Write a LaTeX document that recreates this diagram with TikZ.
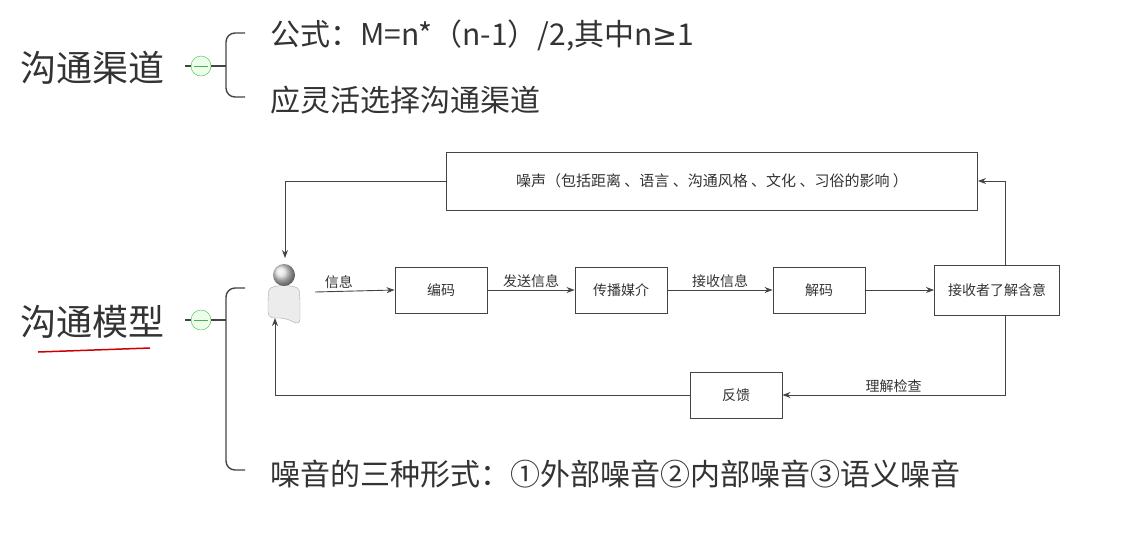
\documentclass[tikz,border=0pt]{standalone}
\usepackage{fontspec}
\setmainfont{Noto Sans CJK SC}
\newfontfamily\djv{DejaVu Sans}
\usetikzlibrary{arrows.meta}
\definecolor{tx}{HTML}{333333}
\definecolor{ln}{HTML}{444444}
\begin{document}
\begin{tikzpicture}[x=1pt,y=-1pt,
  big/.style={font=\fontsize{36}{40}\selectfont,text=tx,inner sep=0},
  mid/.style={font=\fontsize{30}{34}\selectfont,text=tx,inner sep=0,anchor=west},
  box/.style={draw=ln,line width=0.9pt,minimum width=92pt,minimum height=46pt,font=\fontsize{14}{16}\selectfont,text=tx},
  lab/.style={font=\fontsize{14}{16}\selectfont,text=tx,inner sep=2pt},
  btn/.style={circle,draw=green!50!gray,fill=green!8,minimum size=20pt,inner sep=0},
  br/.style={draw=ln,line width=1.4pt,rounded corners=9pt},
  ar/.style={draw=ln,line width=0.9pt,-{Stealth[length=8pt]}}]
\useasboundingbox (0,0) rectangle (1131,539);
\node[big] (t1) at (92,68) {沟通渠道};
\node[btn] (b1) at (201,66) {};
\draw[green!40!gray,line width=1pt] (194,66)--(208,66);
\draw[ln,line width=1.4pt] (185,66)--(b1.west) (b1.east)--(226,66);
\draw[br] (245,33) -| (226,97) -- (245,97);
\node[mid] (f) at (270,36) {公式：M=n*（n-1）/2,其中n{\djv ≥}1};
\node[mid] (g) at (270,100) {应灵活选择沟通渠道};
\node[big] (t2) at (92,322) {沟通模型};
\draw[red!80!black,line width=1.5pt] (38,352) -- (150,348);
\node[btn] (b2) at (201,320) {};
\draw[green!40!gray,line width=1pt] (194,320)--(208,320);
\draw[ln,line width=1.4pt] (185,320)--(b2.west) (b2.east)--(226,320);
\draw[br] (245,288) -| (226,470) -- (245,470);
\node[mid] (h) at (270,474) {噪音的三种形式：①外部噪音②内部噪音③语义噪音};
% diagram
\node[draw=ln,line width=0.9pt,minimum width=531pt,minimum height=58pt,font=\fontsize{15}{17}\selectfont,text=tx] (noise) at (712,181) {噪声（包括距离 、语言 、沟通风格 、文化 、习俗的影响 ）};
\node[box] (enc) at (441,290) {编码};
\node[box] (med) at (621,290) {传播媒介};
\node[box] (dec) at (819,290) {解码};
\node[box,minimum width=125pt,minimum height=50pt] (rec) at (997,290) {接收者了解含意};
\node[box] (fb) at (736,395) {反馈};
% person
\draw[gray!70,fill=gray!15,rounded corners=6pt] (268,318) -- (268,296) .. controls (270,284) and (298,284) .. (300,296) -- (300,325) -- (285,318) -- cycle;
\shade[ball color=gray!25] (284,275) circle (11pt);
\coordinate (pin) at (315,292);
\draw[ar] (pin) -- node[lab,above,pos=0.3] {信息} (enc.west);
\draw[ar] (enc) -- node[lab,above] {发送信息} (med);
\draw[ar] (med) -- node[lab,above] {接收信息} (dec);
\draw[ar] (dec) -- (rec);
\draw[ar] (1005,265) |- (noise.east);
\draw[ar] (noise.west) -| (285,258);
\draw[ar] (1005,315) |- node[lab,above,pos=0.75] {理解检查} (fb.east);
\draw[ar] (fb.west) -| (275,318);
\end{tikzpicture}
\end{document}
